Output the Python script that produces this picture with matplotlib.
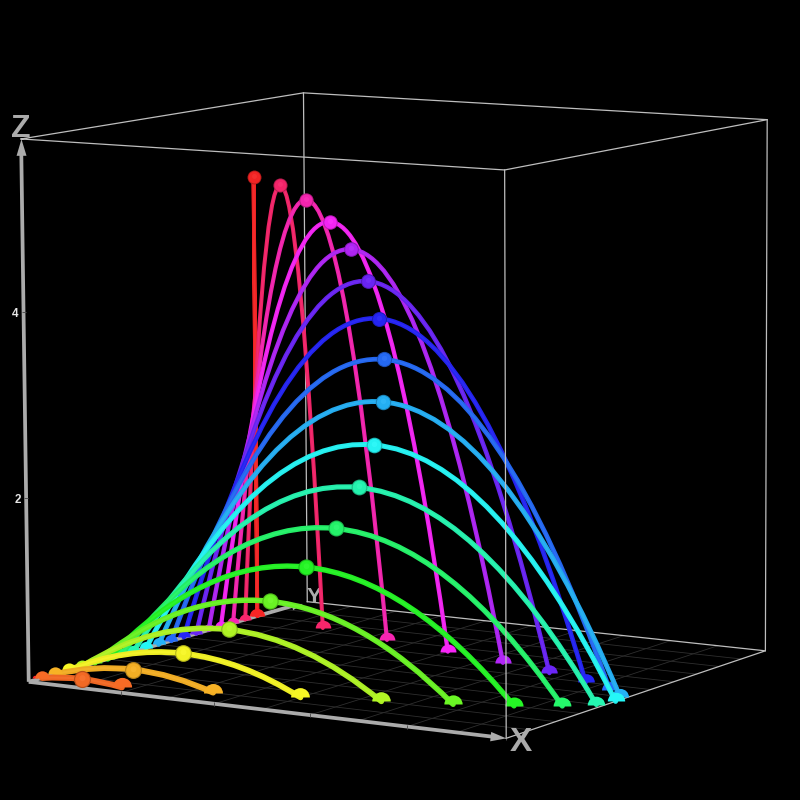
import matplotlib
matplotlib.use('Agg')
import numpy as np
import matplotlib.pyplot as plt
from matplotlib.colors import to_rgb
from matplotlib.patches import PathPatch
from matplotlib.path import Path
from matplotlib.transforms import Affine2D
from mpl_toolkits.mplot3d import art3d

# Each curve sits in a plane y = const and runs from x = 0 to its own range
plane_y = [5, 10, 15, 20, 25, 30, 35, 40, 45, 50, 55, 60, 65, 70, 75, 80, 85, 90]
range_x = [1.74, 3.42, 5.0, 6.43, 7.66, 8.66, 9.40, 9.85, 10.0,
           9.85, 9.40, 8.66, 7.66, 6.43, 5.0, 3.42, 1.74, 0.0]
apex_z = [.04, .15, .33, .59, .89, 1.25, 1.65, 2.07, 2.50,
          2.93, 3.35, 3.75, 4.11, 4.41, 4.66, 4.85, 4.96, 5.0]
colors = ['#FF6E26', '#FFB726', '#FFFF26', '#B7FF26', '#6EFF26', '#26FF26',
          '#26FF6E', '#26FFB7', '#26FFFF', '#26B7FF', '#266EFF', '#2626FF',
          '#6E26FF', '#B726FF', '#FF26FF', '#FF26B7', '#FF266E', '#FF2626']

x_max, y_max, z_max = 10.0, 111, 5.85
x_ticks = [2, 4, 6, 8, 10]
z_ticks = [2, 4]
x_grid = [1, 2, 3, 4, 5, 6, 7, 8, 9]
y_grid = [10, 20, 30, 40, 50, 60, 70, 80, 90, 100]

GRAY = '#ABABAB'
EDGE = '#BEBEBE'


def arrow_marker(angle):
    head = Path([(-1, -0.6), (1, 0), (-1, 0.6), (-1, -0.6)])
    return head.transformed(Affine2D().rotate_deg(angle))


def add_arc(ax, y, reach, top, **style):
    # two quadratic pieces meeting at the apex
    verts = [(0, 0), (reach / 4, top), (reach / 2, top), (reach * 3 / 4, top), (reach, 0)]
    codes = [Path.MOVETO, Path.CURVE3, Path.CURVE3, Path.CURVE3, Path.CURVE3]
    patch = PathPatch(Path(verts, codes), fill=False, capstyle='round', **style)
    ax.add_patch(patch)
    art3d.pathpatch_2d_to_3d(patch, z=y, zdir='y')


fig = plt.figure(figsize=(8, 8), dpi=100, facecolor='black')
# the camera values come from fitting the eight box corners of the reference
ax = fig.add_axes([-11.06 / 800, -10.18 / 800, 1, 1], projection='3d', facecolor='black')
ax.set_xlim(0, x_max, view_margin=0)
ax.set_ylim(0, y_max, view_margin=0)
ax.set_zlim(0, z_max, view_margin=0)
ax.view_init(8.5204, -58.1332, 0.2981)
ax.set_proj_type('persp', focal_length=1.4744)
ax.set_box_aspect((1.0196, 0.9464, 1), zoom=1.1287)
ax.set_axis_off()
ax.computed_zorder = False # painter's order is set by hand below

# floor grid
for gx in x_grid:
    ax.plot([gx, gx], [0, y_max], [0, 0], color='#2E2E2E', lw=0.6, zorder=1)
for gy in y_grid:
    ax.plot([0, x_max], [gy, gy], [0, 0], color='#2E2E2E', lw=0.6, zorder=1)

# box edges behind the curves
ax.plot([x_max, x_max, 0], [0, y_max, y_max], [0, 0, 0], color=EDGE, lw=0.9, zorder=2)
ax.plot([0, 0], [y_max, y_max], [0, z_max], color=EDGE, lw=0.9, zorder=2)
ax.plot([x_max, x_max], [y_max, y_max], [0, z_max], color=EDGE, lw=0.9, zorder=2)
ax.plot([0, x_max, x_max, 0, 0], [0, 0, y_max, y_max, 0], [z_max] * 5, color=EDGE, lw=0.9, zorder=2)

# the three axes
ax.plot([0, x_max * 0.975], [0, 0], [0, 0], color=GRAY, lw=2.7, zorder=3, solid_capstyle='butt')
ax.plot([0, 0], [0, y_max * 0.95], [0, 0], color=GRAY, lw=2.7, zorder=3, solid_capstyle='butt')
ax.plot([0, 0], [0, 0], [0, z_max * 0.975], color=GRAY, lw=2.7, zorder=3, solid_capstyle='butt')
ax.plot([x_max * 0.983], [0], [0], marker=arrow_marker(-6.3), ms=12, color=GRAY, mew=0, zorder=3)
ax.plot([0], [y_max * 0.96], [0], marker=arrow_marker(16), ms=9, color=GRAY, mew=0, zorder=3)
ax.plot([0], [0], [z_max * 0.985], marker=arrow_marker(90.3), ms=12, color=GRAY, mew=0, zorder=3)
for tx in x_ticks:
    ax.plot([tx], [0], [0], marker='|', ms=3, mew=0.7, color='#555555', zorder=4)
for tz in z_ticks:
    ax.plot([0], [0], [tz], marker='_', ms=3, mew=0.7, color='#555555', zorder=4)
    ax.text(-0.12, 0, tz - 0.025, str(tz), color='#E6E6E6', fontsize=8.5, fontweight='bold',
            family='Liberation Sans', ha='right', va='center', zorder=4)

ax.text(x_max + 0.30, 0, -0.03, 'X', color=GRAY, fontsize=24, fontweight='bold',
        family='Liberation Sans', ha='center', va='center', zorder=4)
ax.text(0, 0, z_max + 0.11, 'Z', color=GRAY, fontsize=23, fontweight='bold',
        family='Liberation Sans', ha='center', va='center', zorder=4)
ax.text(0, y_max + 3, 0.02, 'Y', color=GRAY, fontsize=16, fontweight='bold',
        family='Liberation Sans', ha='center', va='center', zorder=4)

# tiny red bit left of the first curve, right at the origin
ax.plot([0.02], [2], [0.03], marker='o', fillstyle='top', markerfacecoloralt='none',
        ms=4, mew=0, color='#FF2626', zorder=5)

shine = Path.unit_circle().transformed(Affine2D().scale(0.42).translate(0, 0.18))

# back to front, so nearer curves cover farther ones
for i in range(len(plane_y) - 1, -1, -1):
    y = plane_y[i]
    c = np.array(to_rgb(colors[i]))
    z_order = 10 + (len(plane_y) - i) * 2
    near = 1 - y / 90 # closer planes get fatter marks
    lw = 2.8 + 1.6 * near
    add_arc(ax, y, range_x[i], apex_z[i], ec=c * 0.93, lw=lw, zorder=z_order)
    add_arc(ax, y, range_x[i], apex_z[i], ec=0.1 + 0.9 * c, lw=lw * 0.35, alpha=0.35, zorder=z_order)
    # half domes where the curve leaves and meets the floor
    for x_end, ms in ((0, 8.5 + 2 * near), (range_x[i], 11 + 3 * near)):
        ax.plot([x_end], [y], [0], marker='o', fillstyle='top', markerfacecoloralt='none',
                ms=ms, mew=0, color=c * 0.97, zorder=z_order + 1)
    # sphere at the top of the curve
    mid = range_x[i] / 2
    ms = 10 + 2.5 * near
    ax.plot([mid], [y], [apex_z[i]], marker='o', ms=ms, mew=0, color=c * 0.72, zorder=z_order + 1)
    ax.plot([mid], [y], [apex_z[i]], marker='o', ms=ms * 0.86, mew=0, color=c * 0.95, zorder=z_order + 1)
    ax.plot([mid], [y], [apex_z[i]], marker=shine, ms=ms * 0.5, mew=0,
            color=0.1 + 0.9 * c, alpha=0.45, zorder=z_order + 1)

# this edge is the nearest thing in the scene
ax.plot([x_max, x_max], [0, 0], [0, z_max], color=EDGE, lw=0.9, zorder=100)

fig.savefig('out.png', facecolor='black')
